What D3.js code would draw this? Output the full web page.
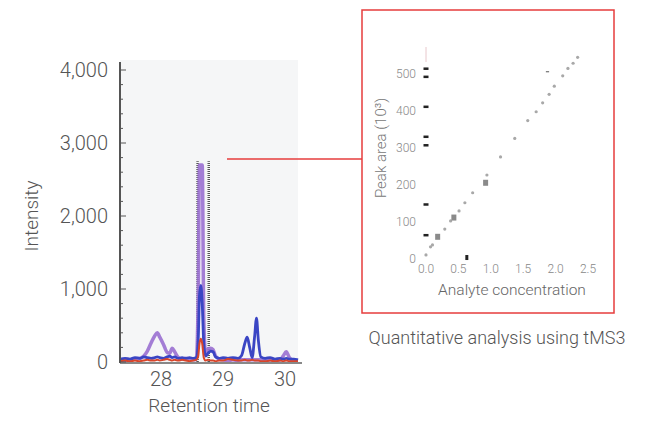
<!DOCTYPE html>
<html>
<head>
<meta charset="utf-8">
<script src="https://cdn.jsdelivr.net/npm/d3@7"></script>
<style>
  body { margin: 0; background: #fff; }
  svg { font-family: "Roboto", "Liberation Sans", sans-serif; font-weight: 300; }
</style>
</head>
<body>
<script>
// chromatogram (left), retention time in min
var times    = [27.34, 27.42, 27.50, 27.58, 27.66, 27.72, 27.78, 27.84, 27.90, 27.94, 27.98, 28.04, 28.10, 28.14, 28.18, 28.22, 28.28, 28.34, 28.40, 28.46, 28.52, 28.57, 28.60, 28.62, 28.642, 28.665, 28.69, 28.72, 28.76, 28.80, 28.84, 28.88, 28.94, 29.00, 29.08, 29.16, 29.24, 29.30, 29.35, 29.39, 29.43, 29.47, 29.51, 29.54, 29.57, 29.61, 29.68, 29.76, 29.84, 29.92, 29.97, 30.02, 30.07, 30.14, 30.21];
var purple   = [30, 20, 30, 40, 50, 80, 150, 260, 360, 400, 340, 240, 130, 120, 190, 140, 60, 40, 50, 40, 30, 40, 900, 2700, 2700, 2700, 600, 100, 180, 190, 170, 80, 40, 30, 20, 30, 20, 30, 30, 30, 30, 30, 30, 30, 30, 30, 20, 30, 20, 30, 80, 140, 60, 20, 20];
var blue     = [40, 50, 40, 60, 50, 70, 60, 50, 60, 70, 60, 50, 70, 80, 60, 70, 50, 60, 50, 60, 50, 60, 300, 900, 1050, 800, 250, 80, 120, 150, 140, 70, 50, 60, 50, 60, 50, 90, 250, 340, 200, 60, 350, 600, 300, 70, 50, 60, 40, 50, 40, 50, 40, 40, 30];
var red      = [10, 20, 10, 20, 10, 20, 30, 20, 20, 30, 20, 30, 40, 30, 20, 30, 20, 30, 20, 10, 20, 30, 80, 250, 320, 250, 60, 20, 30, 20, 20, 10, 20, 20, 40, 30, 20, 20, 30, 20, 20, 30, 20, 20, 20, 10, 10, 20, 10, 20, 10, 20, 10, 10, 10];
var windowTimes = [28.59, 28.77];
var windowTop = 2750;
var yTicks = [0, 1000, 2000, 3000, 4000];
var xTicks = [28, 29, 30];

// calibration (right)
var conc     = [0.00, 0.07, 0.10, 0.29, 0.38, 0.51, 0.60, 0.72, 0.94, 1.15, 1.37, 1.57, 1.70, 1.80, 1.90, 1.98, 2.11, 2.19, 2.27, 2.34];
var area     = [11, 33, 38, 81, 103, 130, 152, 179, 227, 276, 326, 374, 398, 422, 445, 467, 495, 515, 529, 545];
var sqConc   = [0.18, 0.43, 0.92];
var sqArea   = [60, 112, 206];
var zeroArea = [515, 493, 412, 331, 308, 148, 65];
var calYTicks = [0, 100, 200, 300, 400, 500];
var calXTicks = [0, 0.5, 1, 1.5, 2, 2.5];

var svg = d3.select("body").append("svg")
    .attr("width", 645)
    .attr("height", 422);

// ---- left chart ----
var x = d3.scaleLinear().domain([28, 30]).range([161, 285]);
var y = d3.scaleLinear().domain([0, 4000]).range([362, 70]);

svg.append("rect")
    .attr("x", 120).attr("y", 60)
    .attr("width", 178).attr("height", 302)
    .attr("fill", "#f5f6f7");

// dotted window lines
svg.selectAll(".win")
    .data(windowTimes)
    .enter().append("line")
    .attr("x1", function(d) { return x(d); })
    .attr("x2", function(d) { return x(d); })
    .attr("y1", y(0))
    .attr("y2", y(windowTop))
    .attr("stroke", "#555")
    .attr("stroke-width", 2.5)
    .attr("stroke-dasharray", "1,1");

var line = function(vals) {
    return d3.line()
        .x(function(d, i) { return x(times[i]); })
        .y(function(d) { return y(d); })
        .curve(d3.curveMonotoneX)(vals);
};

svg.append("path").attr("d", line(purple))
    .attr("fill", "none").attr("stroke", "#9a70d0").attr("stroke-opacity", 0.9)
    .attr("stroke-width", 3.5);
svg.append("path").attr("d", line(blue))
    .attr("fill", "none").attr("stroke", "#3a45c4")
    .attr("stroke-width", 2.8);
svg.append("path").attr("d", line(red))
    .attr("fill", "none").attr("stroke", "#d8452a")
    .attr("stroke-width", 2);

// axes
svg.append("line")
    .attr("x1", 120).attr("x2", 302).attr("y1", 363).attr("y2", 363)
    .attr("stroke", "#888").attr("stroke-width", 2);
svg.append("line")
    .attr("x1", 120).attr("x2", 120).attr("y1", 62).attr("y2", 363)
    .attr("stroke", "#555").attr("stroke-width", 2);

svg.selectAll(".minor")
    .data(d3.range(0, 4001, 200))
    .enter().append("line")
    .attr("x1", 120)
    .attr("x2", function(d) { return d % 1000 === 0 ? 126 : 123; })
    .attr("y1", function(d) { return y(d); })
    .attr("y2", function(d) { return y(d); })
    .attr("stroke", "#555").attr("stroke-width", 1);

svg.selectAll(".ylab")
    .data(yTicks)
    .enter().append("text")
    .attr("x", 108)
    .attr("y", function(d) { return y(d); })
    .attr("dy", "0.35em")
    .attr("text-anchor", "end")
    .attr("font-size", 20)
    .attr("fill", "#555")
    .text(d3.format(","));

svg.selectAll(".xlab")
    .data(xTicks)
    .enter().append("text")
    .attr("x", function(d) { return x(d); })
    .attr("y", 386)
    .attr("text-anchor", "middle")
    .attr("font-size", 20)
    .attr("fill", "#555")
    .text(function(d) { return d; });

svg.append("text")
    .attr("transform", "translate(38,216) rotate(-90)")
    .attr("text-anchor", "middle")
    .attr("font-size", 19)
    .attr("fill", "#555")
    .text("Intensity");

svg.append("text")
    .attr("x", 209).attr("y", 412)
    .attr("text-anchor", "middle")
    .attr("font-size", 19)
    .attr("fill", "#555")
    .text("Retention time");

// connector + box
svg.append("line")
    .attr("x1", 227).attr("x2", 362).attr("y1", 159).attr("y2", 159)
    .attr("stroke", "#e63c3c").attr("stroke-width", 1.5);
svg.append("rect")
    .attr("x", 362).attr("y", 10)
    .attr("width", 252).attr("height", 303)
    .attr("fill", "none")
    .attr("stroke", "#e63c3c").attr("stroke-width", 1.5);

// ---- right chart ----
var xr = d3.scaleLinear().domain([0, 2.5]).range([426, 588]);
var yr = d3.scaleLinear().domain([0, 500]).range([259, 74]);

svg.append("line")
    .attr("x1", xr(0)).attr("x2", xr(0)).attr("y1", 47).attr("y2", 62)
    .attr("stroke", "#e8c8cc").attr("stroke-width", 1);

svg.selectAll(".pt")
    .data(conc)
    .enter().append("circle")
    .attr("cx", function(d) { return xr(d); })
    .attr("cy", function(d, i) { return yr(area[i]); })
    .attr("r", 1.6)
    .attr("fill", "#a8a8a8");

svg.selectAll(".sq")
    .data(sqConc)
    .enter().append("rect")
    .attr("x", function(d) { return xr(d) - 2.5; })
    .attr("y", function(d, i) { return yr(sqArea[i]) - 3; })
    .attr("width", 5).attr("height", 6)
    .attr("fill", "#8a8a8a");

svg.selectAll(".zero")
    .data(zeroArea)
    .enter().append("rect")
    .attr("x", xr(0) - 2.5)
    .attr("y", function(d) { return yr(d) - 1; })
    .attr("width", 5).attr("height", 2.5)
    .attr("fill", "#222");

svg.append("rect")
    .attr("x", xr(0.63) - 1.5).attr("y", yr(4) - 2.5)
    .attr("width", 3).attr("height", 5)
    .attr("fill", "#222");
svg.append("line")
    .attr("x1", xr(1.85)).attr("x2", xr(1.9)).attr("y1", yr(506)).attr("y2", yr(506))
    .attr("stroke", "#555").attr("stroke-width", 1);

svg.selectAll(".cy")
    .data(calYTicks)
    .enter().append("text")
    .attr("x", 416)
    .attr("y", function(d) { return yr(d); })
    .attr("dy", "0.35em")
    .attr("text-anchor", "end")
    .attr("font-size", 12)
    .attr("fill", "#888")
    .text(function(d) { return d; });

svg.selectAll(".cx")
    .data(calXTicks)
    .enter().append("text")
    .attr("x", function(d) { return xr(d); })
    .attr("y", 273)
    .attr("text-anchor", "middle")
    .attr("font-size", 12)
    .attr("fill", "#888")
    .text(d3.format(".1f"));

svg.append("text")
    .attr("transform", "translate(386,148) rotate(-90)")
    .attr("text-anchor", "middle")
    .attr("font-size", 15)
    .attr("fill", "#777")
    .text("Peak area (10³)");

svg.append("text")
    .attr("x", 512).attr("y", 295)
    .attr("text-anchor", "middle")
    .attr("font-size", 15.5)
    .attr("fill", "#666")
    .text("Analyte concentration");

svg.append("text")
    .attr("x", 497).attr("y", 344)
    .attr("text-anchor", "middle")
    .attr("font-size", 18)
    .attr("fill", "#555")
    .text("Quantitative analysis using tMS3");
</script>
</body>
</html>
